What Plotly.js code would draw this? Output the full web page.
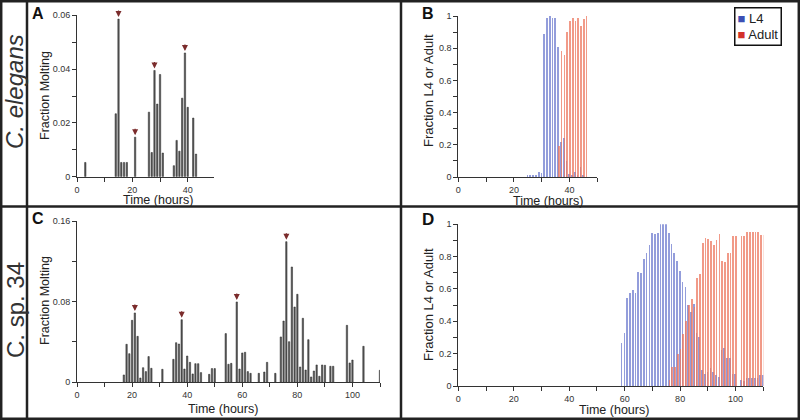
<!DOCTYPE html>
<html><head><meta charset="utf-8">
<script src="https://cdn.plot.ly/plotly-3.0.1.min.js"></script>
<style>html,body{margin:0;padding:0;background:#fff}#chart{width:800px;height:420px}</style>
</head><body><div id="chart"></div>
<script>
// ---------- Panel A : C. elegans, fraction molting ----------
const aHours  = [3,14,15,16,17,18,21,26,27,28,29,30,31,35,36,37,38,39,40,42,43];
const aValues = [0.0053,0.0234,0.0586,0.0053,0.0053,0.0053,0.0147,0.024,0.009,0.0395,0.027,0.038,0.0088,0.0041,0.0135,0.0095,0.0292,0.046,0.0258,0.0218,0.0084];
const aArrowHours = [15,21,28,39];

// ---------- Panel B : C. elegans, fraction L4 / Adult ----------
const bHours = [25,26,27,28,29,30,31,32,33,34,35,36,37,38,39,40,41,42,43,44,45,46];
const bL4    = [0.01,0.015,0.01,0.01,0.03,0.027,0.888,0.988,1.0,0.99,0.988,0.81,0.22,0.24,0.10,0.02,0.01,0.03,0.01,0.06,0.01,0];
const bAdult = [null,null,null,null,null,null,null,null,null,null,null,0.19,0.78,0.76,0.90,0.97,0.99,0.97,0.99,0.94,0.98,1.0];

// ---------- Panel C : C. sp. 34, fraction molting ----------
const cHours  = [17,18,19,20,21,22,23,24,25,26,27,31,35,36,37,38,39,40,41,42,43,44,45,48,49,50,54,55,56,58,59,60,61,62,63,66,68,69,72,74,75,76,77,78,79,80,81,82,83,84,85,86,87,88,89,90,92,93,98,99,100,104,110];
const cValues = [0.0073,0.0377,0.0284,0.0615,0.0688,0.0456,0.0043,0.0145,0.0106,0.0255,0.0139,0.0129,0.0228,0.0393,0.038,0.0621,0.0132,0.0261,0.0198,0.0083,0.0185,0.0185,0.0096,0.0079,0.0136,0.0136,0.0483,0.0179,0.0188,0.0797,0.0132,0.0291,0.0298,0.0106,0.0089,0.0089,0.0102,0.0198,0.0089,0.045,0.0608,0.1395,0.0403,0.1144,0.0747,0.0873,0.0152,0.0635,0.0122,0.0423,0.0053,0.0112,0.0172,0.006,0.0172,0.0169,0.0159,0.0159,0.0565,0.0192,0.0221,0.0357,0.0119];
const cArrowHours = [21,38,58,76];

// ---------- Panel D : C. sp. 34, fraction L4 / Adult ----------
const dHours = [59,60,61,62,63,64,65,66,67,68,69,70,71,72,73,74,75,76,77,78,79,80,81,82,83,84,85,86,87,88,89,90,91,92,93,94,95,96,97,98,99,100,101,102,103,104,105,106,107,108,109,110];
const dL4    = [0.264,0.326,0.542,0.577,0.594,0.577,0.707,0.70,0.783,0.82,0.872,0.948,0.94,0.948,1.0,1.0,1.0,0.948,0.876,0.82,0.773,0.71,0.645,0.61,0.5,0.46,0.51,0.33,0.3,0.099,0.072,0.089,0.109,0.089,0.068,0.058,0.223,0.233,0.175,0.175,0.072,0.072,null,0.037,0.033,0.051,0.051,0.051,0.051,0.051,0.068,0.068];
const dAdult = [null,null,null,null,null,null,null,null,null,null,null,null,null,null,null,null,null,0.04,0.12,0.115,0.2,0.23,0.32,0.40,0.50,0.54,0.49,0.67,0.69,0.882,0.917,0.907,0.899,0.872,0.901,0.938,0.775,0.769,0.82,0.82,0.93,0.93,null,0.93,0.93,0.95,0.95,0.95,0.95,0.95,0.934,0.934];

const seriesNames = ['L4','Adult'];
const seriesColors = ['#3c4fb4','#d3312a'];
const panelLetters = ['A','B','C','D'];
const speciesNames = ['C. elegans','C. sp. 34'];
const xTitle = 'Time (hours)';
const yTitleMolt = 'Fraction Molting';
const yTitleStage = 'Fraction L4 or Adult';

// ---------- styling ----------
const W = 800, H = 420;
const FONT = 'Arial, "Liberation Sans", sans-serif';
const px = v => v / W;
const py = v => 1 - v / H;

const moltStyle = {color:'#5a5a5a', line:{color:'#262626', width:0.5}};
const l4Style   = {color:'rgba(120,132,210,0.8)', line:{width:0}};
const adStyle   = {color:'rgba(236,120,96,0.75)', line:{width:0}};
const BW = 0.62;

function peakArrows(hours, xs, ys, xref, yref){
  return hours.map(h => ({x:h, y:ys[xs.indexOf(h)], xref, yref, text:'', showarrow:true,
    ax:0, ay:-10, standoff:2, arrowhead:2, arrowsize:1.0, arrowwidth:1.2, arrowcolor:'#7b2c2c'}));
}

function xAxis(domain, range, anchor){
  return {domain, range, anchor, showgrid:false, zeroline:false, showline:true,
    linecolor:'#333', linewidth:1, ticks:'outside', ticklen:4, tickwidth:1, tickcolor:'#333',
    tick0:0, dtick:20,
    minor:{dtick:10, ticks:'outside', ticklen:4, tickwidth:1, tickcolor:'#333', showgrid:false},
    tickfont:{size:9, color:'#333', family:FONT}, fixedrange:true};
}
function yAxis(domain, range, anchor, dtick){
  return {domain, range, anchor, showgrid:false, zeroline:false, showline:true,
    linecolor:'#333', linewidth:1, ticks:'outside', ticklen:4, tickwidth:1, tickcolor:'#333',
    tick0:0, dtick:dtick,
    minor:{dtick:dtick/2, ticks:'outside', ticklen:4, tickwidth:1, tickcolor:'#333', showgrid:false},
    tickfont:{size:9, color:'#333', family:FONT}, fixedrange:true};
}

const traces = [
  {type:'bar', name:'Fraction molting', x:aHours, y:aValues, width:0.5, marker:moltStyle, xaxis:'x', yaxis:'y', showlegend:false, cliponaxis:false},
  {type:'bar', name:seriesNames[0], x:bHours, y:bL4, width:BW, offset:-0.4, marker:l4Style, xaxis:'x2', yaxis:'y2', showlegend:false, cliponaxis:false},
  {type:'bar', name:seriesNames[1], x:bHours, y:bAdult, width:BW, offset:-0.15, marker:adStyle, xaxis:'x2', yaxis:'y2', showlegend:false, cliponaxis:false},
  {type:'bar', name:'Fraction molting', x:cHours, y:cValues, width:0.5, marker:moltStyle, xaxis:'x3', yaxis:'y3', showlegend:false, cliponaxis:false},
  {type:'bar', name:seriesNames[0], x:dHours, y:dL4, width:BW, offset:-0.4, marker:l4Style, xaxis:'x4', yaxis:'y4', showlegend:false, cliponaxis:false},
  {type:'bar', name:seriesNames[1], x:dHours, y:dAdult, width:BW, offset:-0.15, marker:adStyle, xaxis:'x4', yaxis:'y4', showlegend:false, cliponaxis:false}
];

function ann(text, x, y, size, opts){
  return Object.assign({text, x, y, xref:'paper', yref:'paper', showarrow:false,
    xanchor:'center', yanchor:'middle', font:{family:FONT, size, color:'#222'}}, opts||{});
}
const letterFont = {family:FONT, size:16, color:'#111'};

const legendText = seriesNames.map((n,i) =>
  '<span style="color:'+seriesColors[i]+'">■</span> '+n).join('<br>');

const annotations = [
  ann('<b>'+panelLetters[0]+'</b>', px(38), py(14), 16, {font:letterFont}),
  ann('<b>'+panelLetters[1]+'</b>', px(428), py(13), 16, {font:letterFont}),
  ann('<b>'+panelLetters[2]+'</b>', px(38), py(218), 16, {font:letterFont}),
  ann('<b>'+panelLetters[3]+'</b>', px(428), py(219), 17, {font:{family:FONT,size:17,color:'#111'}}),
  ann('<i>'+speciesNames[0]+'</i>', px(14), py(92), 24, {textangle:-90, font:{family:FONT,size:24,color:'#333'}}),
  ann(speciesNames[1], px(15), py(310), 24, {textangle:-90, font:{family:FONT,size:24,color:'#333'}}),
  ann(yTitleMolt, px(45), py(96), 12.5, {textangle:-90}),
  ann(yTitleStage, px(428), py(91), 13, {textangle:-90}),
  ann(yTitleMolt, px(45), py(301), 12.5, {textangle:-90}),
  ann(yTitleStage, px(428), py(305), 13, {textangle:-90}),
  ann(xTitle, px(158), py(199.5), 12.5),
  ann(xTitle, px(548), py(201), 12.5),
  ann(xTitle, px(223), py(409), 12.5),
  ann(xTitle, px(614), py(410), 12.5),
  ann(legendText, px(758), py(27), 13, {align:'left', bordercolor:'#111', borderwidth:1.5, borderpad:2, bgcolor:'#fff'})
].concat(peakArrows(aArrowHours, aHours, aValues, 'x', 'y'))
 .concat(peakArrows(cArrowHours, cHours, cValues, 'x3', 'y3'));

const frame = {type:'line', xref:'paper', yref:'paper', line:{color:'#222', width:2.5}};
const shapes = [
  Object.assign({}, frame, {type:'rect', x0:px(1.2), x1:px(798.8), y0:py(418.8), y1:py(1.2)}),
  Object.assign({}, frame, {x0:px(27), x1:px(27), y0:0, y1:1}),
  Object.assign({}, frame, {x0:px(401), x1:px(401), y0:0, y1:1}),
  Object.assign({}, frame, {x0:0, x1:1, y0:py(206.5), y1:py(206.5)})
];

const layout = {
  width:W, height:H, margin:{l:0, r:0, t:0, b:0},
  paper_bgcolor:'#fff', plot_bgcolor:'rgba(0,0,0,0)',
  font:{family:FONT, color:'#222'},
  barmode:'overlay', bargap:0,
  xaxis:  xAxis([px(77), px(214)], [0,49.5], 'y'),
  yaxis:  yAxis([py(176.7), py(15.3)], [0,0.06], 'x', 0.02),
  xaxis2: xAxis([px(458.3), px(597.3)], [0,50], 'y2'),
  yaxis2: yAxis([py(177), py(16)], [0,1], 'x2', 0.2),
  xaxis3: xAxis([px(77), px(380)], [0,110], 'y3'),
  yaxis3: yAxis([py(382.3), py(221)], [0,0.16], 'x3', 0.08),
  xaxis4: xAxis([px(458.3), px(763.3)], [0,110], 'y4'),
  yaxis4: yAxis([py(386), py(224.3)], [0,1], 'x4', 0.2),
  showlegend:false,
  annotations, shapes
};

Plotly.newPlot('chart', traces, layout, {staticPlot:true, displayModeBar:false});
</script>
</body></html>
